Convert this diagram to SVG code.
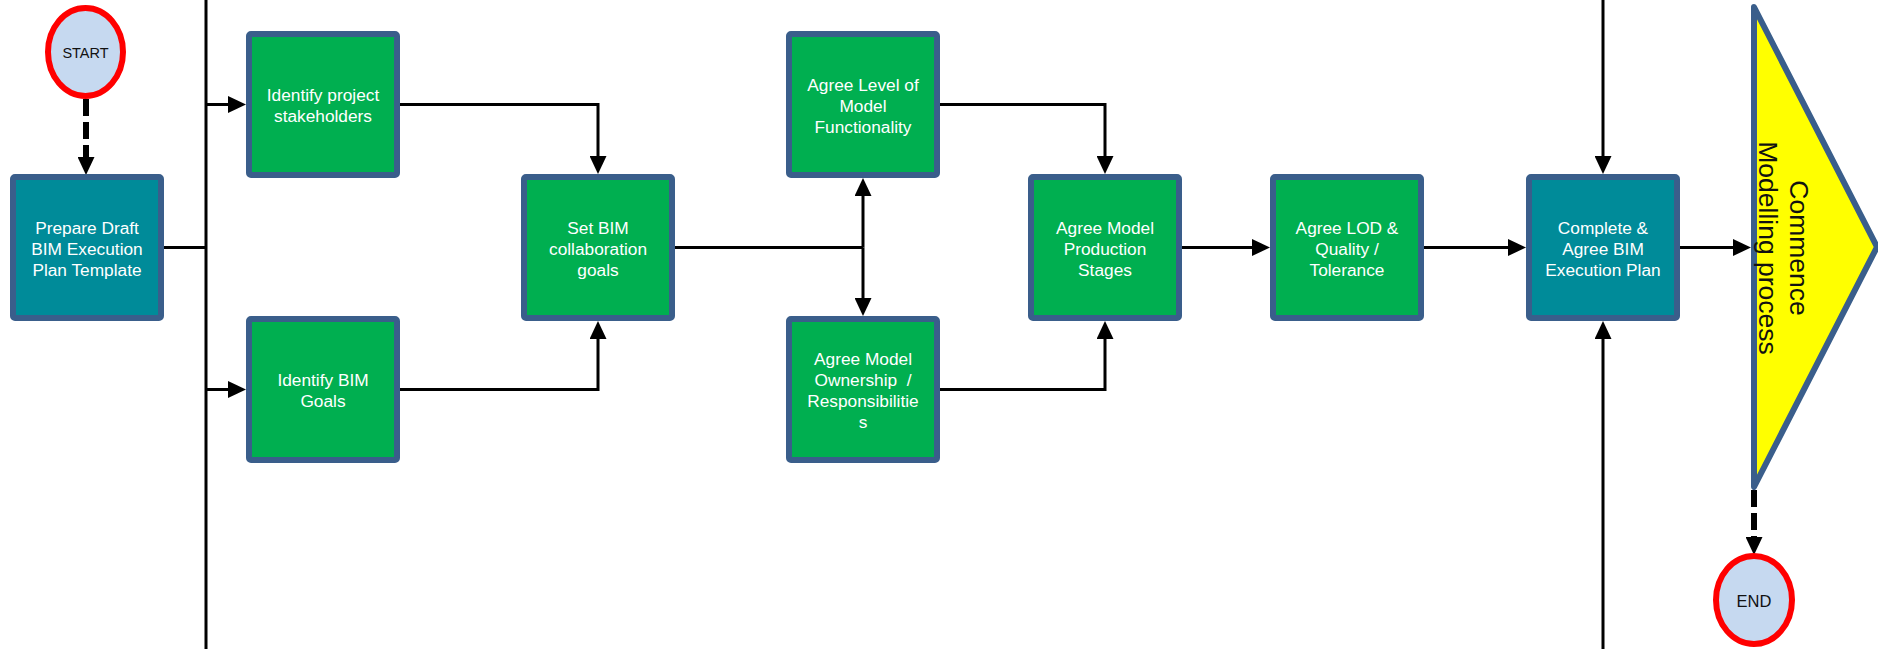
<svg xmlns="http://www.w3.org/2000/svg" width="1878" height="649" viewBox="0 0 1878 649">
<style>
.box{stroke:#3A5E8B;stroke-width:6}
.teal{fill:#008B99}
.green{fill:#00AF50}
.bt{font-family:"Liberation Sans",Arial,sans-serif;font-size:17.3px;fill:#FFFFFF;text-anchor:middle}
.term{fill:#C6D9F0;stroke:#FF0000;stroke-width:6}
.tt{font-family:"Liberation Sans",Arial,sans-serif;fill:#111111;text-anchor:middle}
.ln{fill:none;stroke:#000;stroke-width:3}
.dash{fill:none;stroke:#000;stroke-width:6;stroke-dasharray:17 6}
</style>
<defs>
<marker id="ah" markerUnits="userSpaceOnUse" markerWidth="19" markerHeight="17" refX="0" refY="8.5" orient="auto">
<path d="M0,0 L18,8.5 L0,17 z" fill="#000"/>
</marker>
</defs>
<g id="connectors">
<path class="ln" d="M206,0 V649"/>
<path class="ln" d="M164,247.5 H206"/>
<path class="ln" d="M206,104.5 H228" marker-end="url(#ah)"/>
<path class="ln" d="M206,389.5 H228" marker-end="url(#ah)"/>
<path class="ln" d="M400,104.5 H598 V156" marker-end="url(#ah)"/>
<path class="ln" d="M400,389.5 H598 V339" marker-end="url(#ah)"/>
<path class="ln" d="M675,247.5 H863"/>
<path class="ln" d="M863,247.5 V196" marker-end="url(#ah)"/>
<path class="ln" d="M863,247.5 V298" marker-end="url(#ah)"/>
<path class="ln" d="M940,104.5 H1105 V156" marker-end="url(#ah)"/>
<path class="ln" d="M940,389.5 H1105 V339" marker-end="url(#ah)"/>
<path class="ln" d="M1182,247.5 H1252" marker-end="url(#ah)"/>
<path class="ln" d="M1424,247.5 H1508" marker-end="url(#ah)"/>
<path class="ln" d="M1680,247.5 H1733" marker-end="url(#ah)"/>
<path class="ln" d="M1603,0 V156" marker-end="url(#ah)"/>
<path class="ln" d="M1603,649 V339" marker-end="url(#ah)"/>
<path class="dash" d="M86,99 V157" marker-end="url(#ah)"/>
<path class="dash" d="M1754,490 V537" marker-end="url(#ah)"/>
</g>
<g id="start">
<ellipse class="term" cx="85.5" cy="52" rx="37.5" ry="44"/>
<text class="tt" x="85.5" y="58" font-size="14.5">START</text>
</g>
<g id="prepare">
<rect class="box teal" x="13" y="177" width="148" height="141" rx="2"/>
<text class="bt" x="87" y="233.5">Prepare Draft</text>
<text class="bt" x="87" y="254.5">BIM Execution</text>
<text class="bt" x="87" y="275.5">Plan Template</text>
</g>
<g id="stakeholders">
<rect class="box green" x="249" y="34" width="148" height="141" rx="2"/>
<text class="bt" x="323" y="101">Identify project</text>
<text class="bt" x="323" y="122">stakeholders</text>
</g>
<g id="bimgoals">
<rect class="box green" x="249" y="319" width="148" height="141" rx="2"/>
<text class="bt" x="323" y="386">Identify BIM</text>
<text class="bt" x="323" y="407">Goals</text>
</g>
<g id="setbim">
<rect class="box green" x="524" y="177" width="148" height="141" rx="2"/>
<text class="bt" x="598" y="233.5">Set BIM</text>
<text class="bt" x="598" y="254.5">collaboration</text>
<text class="bt" x="598" y="275.5">goals</text>
</g>
<g id="levelfunc">
<rect class="box green" x="789" y="34" width="148" height="141" rx="2"/>
<text class="bt" x="863" y="90.5">Agree Level of</text>
<text class="bt" x="863" y="111.5">Model</text>
<text class="bt" x="863" y="132.5">Functionality</text>
</g>
<g id="ownership">
<rect class="box green" x="789" y="319" width="148" height="141" rx="2"/>
<text class="bt" x="863" y="364.5">Agree Model</text>
<text class="bt" x="863" y="385.5" xml:space="preserve">Ownership  /</text>
<text class="bt" x="863" y="406.5">Responsibilitie</text>
<text class="bt" x="863" y="427.5">s</text>
</g>
<g id="production">
<rect class="box green" x="1031" y="177" width="148" height="141" rx="2"/>
<text class="bt" x="1105" y="233.5">Agree Model</text>
<text class="bt" x="1105" y="254.5">Production</text>
<text class="bt" x="1105" y="275.5">Stages</text>
</g>
<g id="lod">
<rect class="box green" x="1273" y="177" width="148" height="141" rx="2"/>
<text class="bt" x="1347" y="233.5">Agree LOD &amp;</text>
<text class="bt" x="1347" y="254.5">Quality /</text>
<text class="bt" x="1347" y="275.5">Tolerance</text>
</g>
<g id="complete">
<rect class="box teal" x="1529" y="177" width="148" height="141" rx="2"/>
<text class="bt" x="1603" y="233.5">Complete &amp;</text>
<text class="bt" x="1603" y="254.5">Agree BIM</text>
<text class="bt" x="1603" y="275.5">Execution Plan</text>
</g>
<g id="commence">
<polygon points="1754,7 1877,247 1754,487" fill="#FFFF00" stroke="#3A5E8B" stroke-width="6" stroke-linejoin="round"/>
<g transform="translate(1790,248) rotate(90)">
<text class="tt" x="0" y="0" font-size="26.5" fill="#000">Commence</text>
<text class="tt" x="0" y="31.5" font-size="26.5" fill="#000">Modelling process</text>
</g>
</g>
<g id="end">
<ellipse class="term" cx="1754" cy="600" rx="38" ry="44"/>
<text class="tt" x="1754" y="606.5" font-size="16.5">END</text>
</g>
</svg>
